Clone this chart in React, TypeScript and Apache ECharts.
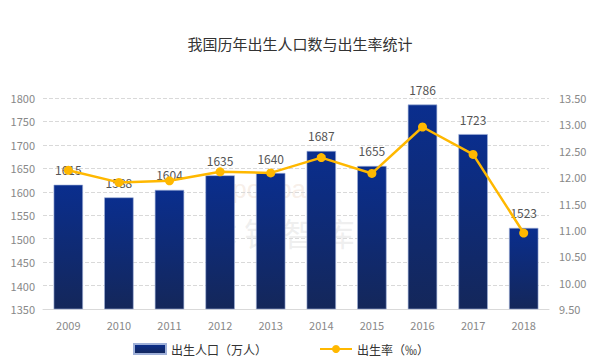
import React, { useEffect, useRef } from "react";
import * as echarts from "echarts";

const years = ["2009", "2010", "2011", "2012", "2013", "2014", "2015", "2016", "2017", "2018"];
const births = [1615, 1588, 1604, 1635, 1640, 1687, 1655, 1786, 1723, 1523];
const birthRate = [12.13, 11.9, 11.93, 12.1, 12.08, 12.37, 12.07, 12.95, 12.43, 10.94];
const titleText = "我国历年出生人口数与出生率统计";
const barName = "出生人口（万人）";
const lineName = "出生率（‰）";

export default function App() {
  const ref = useRef<HTMLDivElement>(null);
  useEffect(() => {
    if (!ref.current) return;
    const chart = echarts.init(ref.current, null, { renderer: "svg" });
    const font = "'Noto Sans CJK SC', 'Noto Sans', sans-serif";
    chart.setOption({
      animation: false,
      backgroundColor: "#ffffff",
      textStyle: { fontFamily: font },
      title: {
        text: titleText,
        left: "center",
        top: 31,
        textStyle: { fontSize: 15, fontWeight: "normal", color: "#333", fontFamily: font },
      },
      graphic: [
        {
          type: "text",
          left: 215,
          top: 176,
          z: 0,
          silent: true,
          style: { text: "Sportbank", fontSize: 26, fill: "rgba(230,200,180,0.3)", fontFamily: "Arial" },
        },
        {
          type: "text",
          left: 205,
          top: 216,
          z: 0,
          silent: true,
          style: { text: "体 银 智 库", fontSize: 32, fill: "rgba(200,200,200,0.3)", fontFamily: font },
        },
      ],
      legend: {
        bottom: 0,
        left: 128,
        itemGap: 52,
        itemWidth: 32,
        itemHeight: 10,
        textStyle: { fontSize: 12, color: "#333", fontFamily: font },
        data: [
          { name: barName, icon: "rect" },
          { name: lineName },
        ],
      },
      grid: { left: 43, right: 51, top: 98, bottom: 51 },
      xAxis: {
        type: "category",
        data: years,
        axisLine: { lineStyle: { color: "#d9d9d9" } },
        axisTick: { show: false },
        axisLabel: { color: "#888", fontSize: 11, margin: 10 },
      },
      yAxis: [
        {
          type: "value",
          min: 1350,
          max: 1800,
          interval: 50,
          axisLine: { show: false },
          axisTick: { show: false },
          axisLabel: { color: "#888", fontSize: 11, margin: 8, formatter: (v: number) => String(v) },
          splitLine: { lineStyle: { color: "#d9d9d9", type: "dashed" } },
        },
        {
          type: "value",
          min: 9.5,
          max: 13.5,
          interval: 0.5,
          axisLine: { show: false },
          axisTick: { show: false },
          axisLabel: { color: "#888", fontSize: 11, margin: 10, formatter: (v: number) => v.toFixed(2) },
          splitLine: { show: false },
        },
      ],
      series: [
        {
          name: barName,
          type: "bar",
          data: births,
          barWidth: "58%",
          itemStyle: {
            color: new echarts.graphic.LinearGradient(0, 0, 0, 1, [
              { offset: 0, color: "#0a2e8e" },
              { offset: 1, color: "#14275a" },
            ]),
            borderColor: "#9fb0d8",
            borderWidth: 0.6,
          },
          label: { show: true, position: "top", distance: 9, color: "#555", fontSize: 12 },
          z: 2,
        },
        {
          name: lineName,
          type: "line",
          yAxisIndex: 1,
          data: birthRate,
          symbol: "circle",
          symbolSize: 9,
          lineStyle: { color: "#ffb800", width: 2.5 },
          itemStyle: { color: "#ffb800" },
          z: 3,
        },
      ],
    });
    return () => chart.dispose();
  }, []);
  return <div ref={ref} style={{ position: "fixed", left: 0, top: 0, width: 600, height: 360 }} />;
}
